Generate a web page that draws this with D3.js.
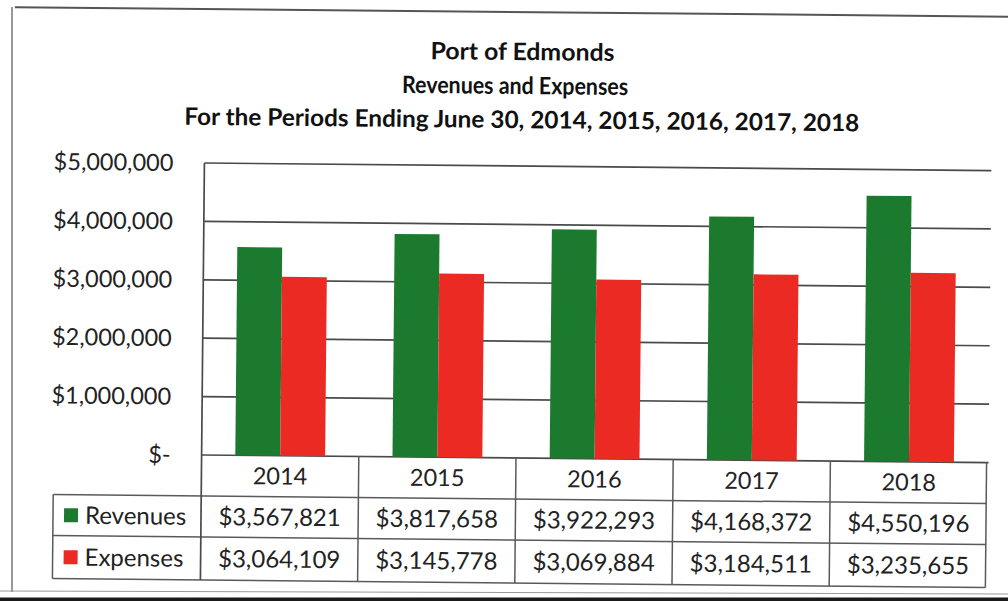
<!DOCTYPE html>
<html>
<head>
<meta charset="utf-8">
<script src="https://cdn.jsdelivr.net/npm/d3@7"></script>
<style>
  body { margin: 0; background: #fff; }
  svg { display: block; }
</style>
</head>
<body>
<div id="chart"></div>
<script>
// données
const years = ["2014", "2015", "2016", "2017", "2018"];
const seriesNames = ["Revenues", "Expenses"];
const revenues = [3567821, 3817658, 3922293, 4168372, 4550196];
const expenses = [3064109, 3145778, 3069884, 3184511, 3235655];
const yTicks = [0, 1000000, 2000000, 3000000, 4000000, 5000000];
const titleLines = [
  "Port of Edmonds",
  "Revenues and Expenses",
  "For the Periods Ending June 30, 2014, 2015, 2016, 2017, 2018"
];

const colors = { Revenues: "#1c7a2f", Expenses: "#ec2a24" };
const values = { Revenues: revenues, Expenses: expenses };

const width = 1008, height = 601;
const plot = { left: 203, right: 989, top: 163, bottom: 455 };
const rowH = [41, 41, 43];   // en-tête années, revenus, dépenses
const font = "Lato, 'Open Sans', sans-serif";
const lineColor = "#4a4a4a";
const tilt = 0.55;           // la page numérisée est légèrement tournée

const svg = d3.select("#chart")
  .append("svg")
  .attr("width", width)
  .attr("height", height);

// cadre de la page numérisée
svg.append("line").attr("x1", 12).attr("x2", 12).attr("y1", 7).attr("y2", 592)
  .attr("stroke", "#777").attr("stroke-width", 1.5);
svg.append("line").attr("x1", 0).attr("x2", width).attr("y1", 591).attr("y2", 594)
  .attr("stroke", "#999").attr("stroke-width", 1.2);
svg.append("rect").attr("x", 0).attr("y", 597.5).attr("width", width).attr("height", 4)
  .attr("fill", "#1a1a1a");

const g = svg.append("g")
  .attr("transform", `rotate(${tilt}, ${plot.left}, 310)`);

g.append("line").attr("x1", 12).attr("x2", width + 10).attr("y1", 9).attr("y2", 9)
  .attr("stroke", "#555").attr("stroke-width", 2);

// titre
const titlePos = [
  { x: 520, y: 57, w: 184 },
  { x: 513, y: 91, w: 226 },
  { x: 520, y: 125, w: 675 }
];
g.append("g")
  .selectAll("text")
  .data(titleLines)
  .join("text")
  .attr("x", (d, i) => titlePos[i].x)
  .attr("y", (d, i) => titlePos[i].y)
  .attr("text-anchor", "middle")
  .attr("font-family", font)
  .attr("font-weight", "bold")
  .attr("font-size", 24)
  .attr("textLength", (d, i) => titlePos[i].w)
  .attr("lengthAdjust", "spacingAndGlyphs")
  .attr("fill", "#111")
  .text(d => d);

// échelles
const x0 = d3.scaleBand().domain(years).range([plot.left, plot.right]);
const x1 = d3.scaleBand().domain(seriesNames).range([0, x0.bandwidth()])
  .paddingInner(0).paddingOuter(0.75);
const y = d3.scaleLinear().domain([0, 5000000]).range([plot.bottom, plot.top]);

// grille
g.append("g")
  .selectAll("line")
  .data(yTicks)
  .join("line")
  .attr("x1", plot.left).attr("x2", plot.right + 1)
  .attr("y1", d => y(d)).attr("y2", d => y(d))
  .attr("stroke", lineColor).attr("stroke-width", 1.7);

// axe y (libellés)
const fmt = d => d === 0 ? "$-" : "$" + d3.format(",")(d);
g.append("g")
  .selectAll("text")
  .data(yTicks)
  .join("text")
  .attr("x", 172)
  .attr("y", d => y(d))
  .attr("dy", "0.35em")
  .attr("text-anchor", "end")
  .attr("font-family", font)
  .attr("font-size", 23.5)
  .attr("fill", "#222")
  .text(fmt);

// barres
g.append("g")
  .selectAll("g")
  .data(years)
  .join("g")
  .attr("transform", d => `translate(${x0(d)},0)`)
  .selectAll("rect")
  .data((d, i) => seriesNames.map(s => ({ s, v: values[s][i] })))
  .join("rect")
  .attr("x", d => x1(d.s))
  .attr("width", x1.bandwidth())
  .attr("y", d => y(d.v))
  .attr("height", d => y(0) - y(d.v))
  .attr("fill", d => colors[d.s]);

// tableau de données
const tableTop = plot.bottom;
const rowY = [tableTop, tableTop + rowH[0], tableTop + rowH[0] + rowH[1], tableTop + rowH[0] + rowH[1] + rowH[2]];
const tableLeft = 55;
const table = g.append("g");

// lignes horizontales
[1, 2, 3].forEach(i => {
  table.append("line").attr("x1", i === 1 ? tableLeft : tableLeft).attr("x2", plot.right - 1)
    .attr("y1", rowY[i]).attr("y2", rowY[i]).attr("stroke", "#5a5a5a").attr("stroke-width", 1.5);
});
table.append("line").attr("x1", plot.right - 1).attr("x2", plot.right - 1)
  .attr("y1", rowY[0]).attr("y2", rowY[3]).attr("stroke", "#5a5a5a").attr("stroke-width", 1.5);
// lignes verticales
table.append("line").attr("x1", plot.left).attr("x2", plot.left)
  .attr("y1", plot.top).attr("y2", rowY[3]).attr("stroke", lineColor).attr("stroke-width", 1.7);
table.selectAll("line.col")
  .data(years.slice(0, -1))
  .join("line")
  .attr("class", "col")
  .attr("x1", d => x0(d) + x0.bandwidth())
  .attr("x2", d => x0(d) + x0.bandwidth())
  .attr("y1", rowY[0]).attr("y2", rowY[3])
  .attr("stroke", "#5a5a5a").attr("stroke-width", 1.5);
table.append("line").attr("x1", tableLeft).attr("x2", tableLeft)
  .attr("y1", rowY[1]).attr("y2", rowY[3]).attr("stroke", "#5a5a5a").attr("stroke-width", 1.5);

// années
table.selectAll("text.year")
  .data(years)
  .join("text")
  .attr("class", "year")
  .attr("x", d => x0(d) + x0.bandwidth() / 2)
  .attr("y", (rowY[0] + rowY[1]) / 2)
  .attr("dy", "0.35em")
  .attr("text-anchor", "middle")
  .attr("font-family", font)
  .attr("font-size", 23.5)
  .attr("fill", "#222")
  .text(d => d);

// lignes de séries
seriesNames.forEach((s, si) => {
  const cy = (rowY[si + 1] + rowY[si + 2]) / 2;
  table.append("rect")
    .attr("x", 66).attr("y", cy - 7)
    .attr("width", 14).attr("height", 14)
    .attr("fill", colors[s]);
  table.append("text")
    .attr("x", 87).attr("y", cy).attr("dy", "0.35em")
    .attr("font-family", font).attr("font-size", 24).attr("fill", "#222")
    .text(s);
  table.selectAll(`text.v${si}`)
    .data(values[s])
    .join("text")
    .attr("class", `v${si}`)
    .attr("x", (d, i) => x0(years[i]) + x0.bandwidth() / 2)
    .attr("y", cy).attr("dy", "0.35em")
    .attr("text-anchor", "middle")
    .attr("font-family", font).attr("font-size", 24).attr("fill", "#222")
    .text(d => "$" + d3.format(",")(d));
});
</script>
</body>
</html>
